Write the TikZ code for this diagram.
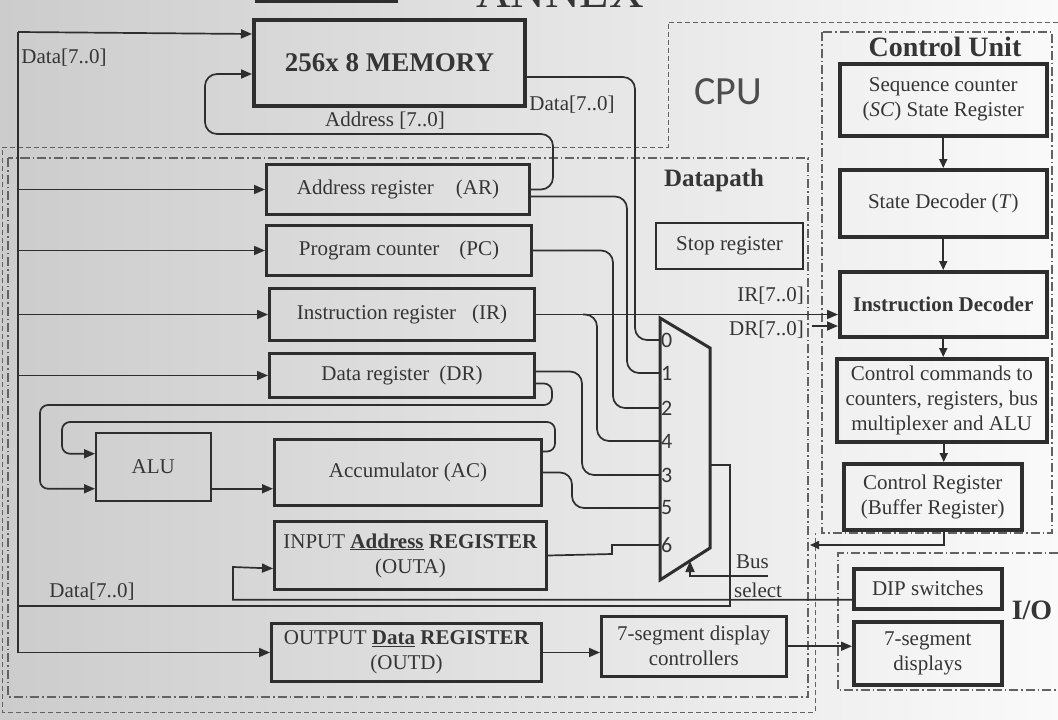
\documentclass[tikz,border=0pt]{standalone}
\usepackage{fontspec}
\setmainfont{Liberation Serif}
\newfontfamily\cpufont{Carlito}
\usetikzlibrary{arrows.meta,calc}
\definecolor{ink}{HTML}{2E2E2E}
\definecolor{txt}{HTML}{353535}
\newcommand\regfont{\fontsize{21}{25}\selectfont}
\newcommand\digfont{\cpufont\fontsize{22}{24}\selectfont}
\tikzset{
  reg/.style={draw=ink, line width=3pt, anchor=north west, inner sep=2pt, align=center, font=\regfont, text=txt},
  cureg/.style={reg, line width=3.5pt},
  thinreg/.style={reg, line width=1.5pt},
  wire/.style={draw=ink, line width=1.7pt},
  arr/.style={-{Triangle[length=11pt,width=9pt]}},
  sarr/.style={-{Triangle[length=9pt,width=8pt]}},
  lbl/.style={font=\regfont, text=txt, inner sep=1pt},
  dig/.style={font=\digfont, text=txt, anchor=west, inner sep=1pt},
  cpuedge/.style={draw=ink!75, line width=1pt, dash pattern=on 5pt off 3pt},
  dpedge/.style={draw=ink!75, line width=1.1pt, dash pattern=on 9pt off 3pt on 1.5pt off 3pt},
}
\begin{document}
\begin{tikzpicture}[x=1pt,y=-1pt]
\useasboundingbox (0,0) rectangle (1058,720);
\shade[left color=black!20, right color=black!2] (0,0) rectangle (1058,720);

% page header (cut off at the top edge, as in the photo)
\node[font=\fontsize{48}{50}\selectfont, text=txt, anchor=base, inner sep=0pt] (annex) at (560,8) {ANNEX};
\draw[ink, line width=4pt] (255,1) -- (398,1);

% region outlines
\draw[cpuedge] (1058,22) -- (668,22) -- (668,147) -- (2,147) -- (2,712) -- (815,712) -- (815,533);
\draw[dpedge] (8,158) rectangle (808,697);
\draw[dpedge] (822,32) rectangle (1052,533);
\draw[dpedge] (1058,553) -- (838,553) -- (838,690) -- (1058,690);

% titles
\node[font=\cpufont\fontsize{40}{42}\selectfont, text=ink!85] (tcpu) at (728,92) {CPU};
\node[font=\bfseries\fontsize{28}{30}\selectfont, text=txt] (tcu) at (945,47) {Control Unit};
\node[font=\bfseries\fontsize{25}{27}\selectfont, text=txt] (tdp) at (714,180) {Datapath};
\node[font=\bfseries\fontsize{28}{30}\selectfont, text=txt] (tio) at (1032,610) {I/O};

% memory and registers
\node[reg, line width=4pt, minimum width=271pt, minimum height=86pt, font=\bfseries\fontsize{27}{30}\selectfont] (mem) at (252,18) {256x 8 MEMORY};
\node[reg, minimum width=263pt, minimum height=50pt] (ar) at (265,163) {Address register\hspace{22pt}(AR)};
\node[reg, minimum width=265pt, minimum height=50pt] (pc) at (265,224) {Program counter\hspace{20pt}(PC)};
\node[reg, minimum width=265pt, minimum height=52pt] (ir) at (268,287) {Instruction register\hspace{16pt}(IR)};
\node[reg, minimum width=265pt, minimum height=44pt] (dr) at (268,352) {Data register\hspace{10pt}(DR)};
\node[thinreg, minimum width=115pt, minimum height=68pt] (alu) at (95,432) {ALU};
\node[reg, minimum width=267pt, minimum height=66pt] (ac) at (273,438) {Accumulator (AC)};
\node[reg, minimum width=272pt, minimum height=68pt, inner sep=0pt] (outa) at (273,520) {INPUT \underline{\textbf{Address}} \textbf{REGISTER}\\(OUTA)};
\node[reg, minimum width=270pt, minimum height=58pt, inner sep=0pt] (outd) at (270,622) {OUTPUT \underline{\textbf{Data}} \textbf{REGISTER}\\(OUTD)};
\node[reg, line width=2.5pt, minimum width=185pt, minimum height=60pt] (ctrl) at (600,615) {7-segment display\\controllers};
\node[reg, line width=2.2pt, minimum width=147pt, minimum height=46pt] (stop) at (655,222) {Stop register};

% control unit
\node[cureg, minimum width=207pt, minimum height=72pt] (sc) at (838,62) {Sequence counter\\(\textit{SC}) State Register};
\node[cureg, minimum width=207pt, minimum height=67pt] (sd) at (838,168) {State Decoder (\textit{T})};
\node[cureg, minimum width=207pt, minimum height=65pt, font=\bfseries\regfont] (id) at (838,270) {Instruction Decoder};
\node[cureg, minimum width=210pt, minimum height=83pt, inner sep=0pt] (cc) at (835,357) {Control commands to\\counters, registers, bus\\multiplexer and ALU};
\node[cureg, minimum width=178pt, minimum height=66pt] (cr) at (842,462) {Control Register\\(Buffer Register)};

% I/O
\node[cureg, minimum width=148pt, minimum height=40pt] (dip) at (852,567) {DIP switches};
\node[cureg, minimum width=148pt, minimum height=63pt] (disp) at (852,620) {7-segment\\displays};

% multiplexer
\coordinate (mA) at (660,318);
\coordinate (mB) at (710,348);
\coordinate (mC) at (710,548);
\coordinate (mD) at (660,580);
\draw[draw=ink, line width=3pt, line join=miter] (mA) -- (mB) -- (mC) -- (mD) -- cycle;
\coordinate (m0) at (660,340);
\coordinate (m1) at (660,373);
\coordinate (m2) at (660,408);
\coordinate (m4) at (660,441);
\coordinate (m3) at (660,475);
\coordinate (m5) at (660,508);
\coordinate (m6) at (660,545);
\coordinate (mout) at (710,465);
\coordinate (msel) at (690,561);
\node[dig] (d0) at (m0) {0};
\node[dig] (d1) at (m1) {1};
\node[dig] (d2) at (m2) {2};
\node[dig] (d4) at (m4) {4};
\node[dig] (d3) at (m3) {3};
\node[dig] (d5) at (m5) {5};
\node[dig] (d6) at (m6) {6};

% data bus on the left
\coordinate (bustop) at (18,32);
\coordinate (busj) at (18,606);
\draw[wire,arr] (bustop) -- ([yshift=29pt]mem.west);
\draw[wire,arr] (bustop) |- (outd.west);
\draw[wire,arr] (bustop |- ar.west) -- (ar.west);
\draw[wire,arr] (bustop |- pc.west) -- (pc.west);
\draw[wire,arr] (bustop |- ir.west) -- (ir.west);
\draw[wire,arr] (bustop |- dr.west) -- (dr.west);
\node[lbl] (ldata1) at (64,58) {Data[7..0]};
\node[lbl] (ldata3) at (92,592) {Data[7..0]};

% address loop to memory
\draw[wire,arr,rounded corners=12pt] (ar.east) -- ++(22,0) |- (205,134) |- ([yshift=-11pt]mem.west);
\node[lbl] (laddr) at (385,121) {Address [7..0]};

% inputs of the multiplexer
\draw[wire,rounded corners=12pt] ([yshift=-14pt]mem.east) -| (635,340) -- (m0);
\node[lbl] (ldata2) at (572,105) {Data[7..0]};
\draw[wire,rounded corners=12pt] ([yshift=-7pt]ar.east) -| (627,373) -- (m1);
\draw[wire,rounded corners=12pt] (pc.east) -| (613,408) -- (m2);
\coordinate (irb) at ($(ir.east)+(47,0)$);
\draw[wire,rounded corners=12pt] (irb) -| (597,441) -- (m4);
\draw[wire,rounded corners=12pt] ([yshift=4pt]dr.east) -| (582,475) -- (m3);
\draw[wire,rounded corners=12pt] (ac.east) -| (572,508) -- (m5);
\draw[wire] (outa.east) -- (612,554) |- (m6);

% IR to instruction decoder
\draw[wire,arr] (ir.east) -- (id.west |- ir.east);
\node[lbl, anchor=east] (lir) at (805,296) {IR[7..0]};
\coordinate (drin) at (812,326);
\draw[wire,arr] (drin) -- (id.west |- drin);
\node[lbl, anchor=east] (ldr) at (805,330) {DR[7..0]};

% ALU loops
\draw[wire,arr,rounded corners=8pt] ([yshift=-8pt]dr.east) -- ++(16,0) |- (40,405) |- ([yshift=-22pt]alu.west);
\draw[wire,arr,rounded corners=8pt] ([yshift=21pt]ac.east) -- ++(12,0) |- (62,422) |- ([yshift=13pt]alu.west);
\draw[wire,arr] ([yshift=-22pt]alu.east) -- (ac.west |- {$(alu.east)+(0,-22pt)$});

% bus output of the multiplexer
\draw[wire] (mout) -| (730,606) -- (busj);

% DIP switches to input register
\draw[wire,arr] ([yshift=-11pt]dip.west) -| (233,567) -- ([yshift=-13pt]outa.west);

% bus select
\coordinate (bsel) at (768,576);
\draw[wire,arr] (bsel) -| (msel);
\node[lbl, anchor=west] (lbus) at (735,562) {Bus};
\node[lbl, anchor=west] (lsel) at (733,590) {select};

% outputs
\draw[wire,arr] (outd.east) -- (ctrl.west |- outd.east);
\draw[wire,arr] (ctrl.east) -- (disp.west |- ctrl.east);

% control unit chain
\draw[wire,sarr] (sc.south) -- (sd.north);
\draw[wire,sarr] (sd.south) -- (id.north);
\draw[wire,sarr] (id.south) -- (id.south |- cc.north);
\draw[wire,sarr] ([xshift=2pt]cc.south) -- ([xshift=2pt]cc.south |- cr.north);
\coordinate (crout) at (810,545);
\draw[wire,sarr] ([xshift=11pt]cr.south) |- (crout);
\end{tikzpicture}
\end{document}
